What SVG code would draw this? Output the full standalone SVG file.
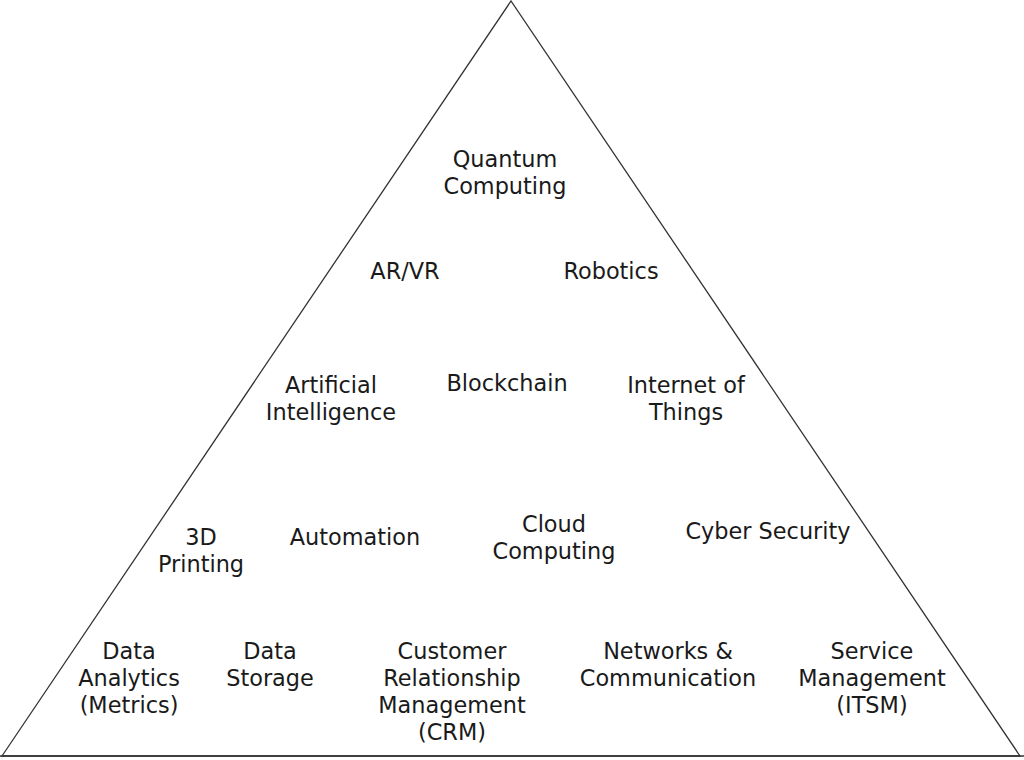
<svg xmlns="http://www.w3.org/2000/svg" width="1024" height="760" viewBox="0 0 1024 760">
<style>
.t{font-family:"DejaVu Sans",Verdana,sans-serif;font-size:22.4px;fill:#1a1a1a;text-anchor:middle}
.s{fill:none;stroke:#333;stroke-width:1.3}
</style>
<rect width="1024" height="760" fill="#fff"/>
<g id="pyramid">
<polygon class="s" points="2,756 511,1 1020,756"/>
<line class="s" x1="0" y1="756" x2="1024" y2="756"/>
</g>
<g id="quantum"><text class="t" x="505" y="167">Quantum</text><text class="t" x="505" y="194">Computing</text></g>
<g id="arvr"><text class="t" x="405" y="279">AR/VR</text></g>
<g id="robotics"><text class="t" x="611" y="279">Robotics</text></g>
<g id="ai"><text class="t" x="331" y="393">Artificial</text><text class="t" x="331" y="420">Intelligence</text></g>
<g id="blockchain"><text class="t" x="507" y="391">Blockchain</text></g>
<g id="iot"><text class="t" x="686" y="393">Internet of</text><text class="t" x="686" y="420">Things</text></g>
<g id="printing"><text class="t" x="201" y="545">3D</text><text class="t" x="201" y="572">Printing</text></g>
<g id="automation"><text class="t" x="355" y="545">Automation</text></g>
<g id="cloud"><text class="t" x="554" y="532">Cloud</text><text class="t" x="554" y="559">Computing</text></g>
<g id="cyber"><text class="t" x="768" y="539">Cyber Security</text></g>
<g id="analytics"><text class="t" x="129" y="659">Data</text><text class="t" x="129" y="686">Analytics</text><text class="t" x="129" y="713">(Metrics)</text></g>
<g id="storage"><text class="t" x="270" y="659">Data</text><text class="t" x="270" y="686">Storage</text></g>
<g id="crm"><text class="t" x="452" y="659">Customer</text><text class="t" x="452" y="686">Relationship</text><text class="t" x="452" y="713">Management</text><text class="t" x="452" y="740">(CRM)</text></g>
<g id="networks"><text class="t" x="668" y="659">Networks &amp;</text><text class="t" x="668" y="686">Communication</text></g>
<g id="itsm"><text class="t" x="872" y="659">Service</text><text class="t" x="872" y="686">Management</text><text class="t" x="872" y="713">(ITSM)</text></g>
<g id="connectors"></g>
</svg>
